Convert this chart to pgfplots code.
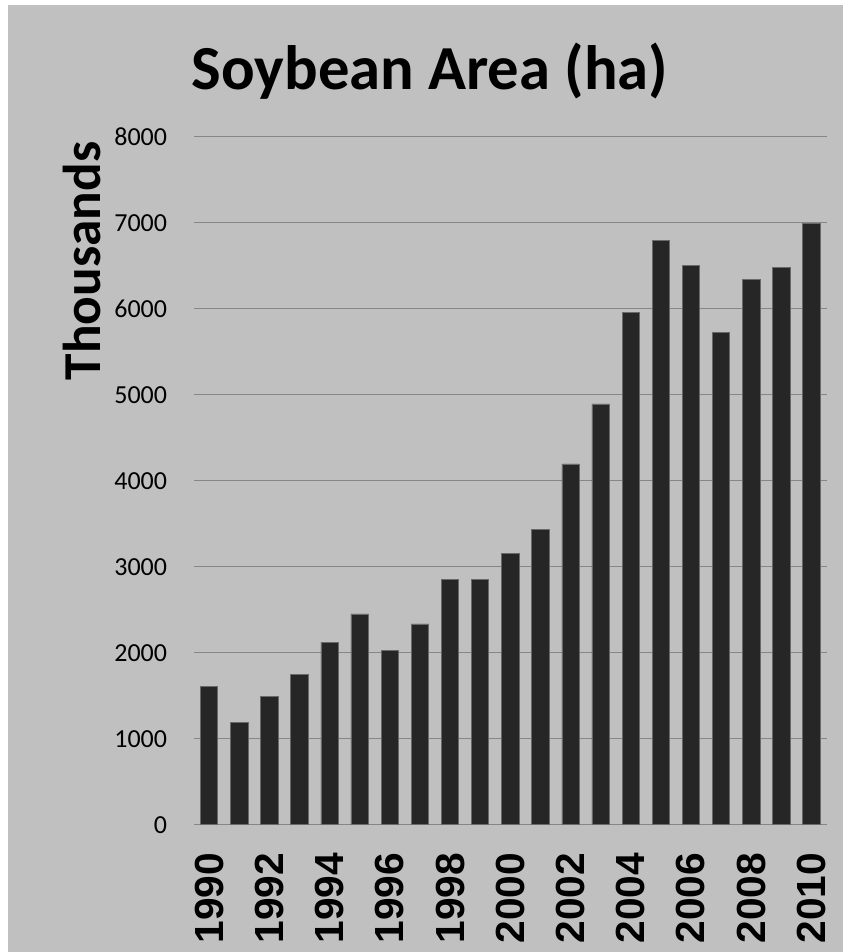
\documentclass[border=0pt]{standalone}
\usepackage{pgfplots}
\pgfplotsset{compat=1.18}
\usepackage{fontspec}
\setmainfont{Carlito}
\newfontfamily\xfont{Liberation Sans}
\definecolor{bg}{RGB}{192,192,192}
\definecolor{barfill}{RGB}{38,38,38}
\definecolor{gridc}{RGB}{134,134,134}
\begin{document}
\begin{tikzpicture}
% page: 843x952 px at 0.75pt/px
\fill[white] (0pt,0pt) rectangle (632.25pt,714pt);
\fill[bg] (6pt,0pt) rectangle (632.25pt,710.25pt);
\begin{axis}[
  at={(145.5pt,95.5pt)}, anchor=south west,
  scale only axis, width=474.4pt, height=516pt,
  xmin=-0.5, xmax=20.5, ymin=0, ymax=8000,
  ytick={0,1000,...,8000},
  xtick={0,2,...,20},
  xticklabels={1990,1992,1994,1996,1998,2000,2002,2004,2006,2008,2010},
  axis lines*=left,
  y axis line style={draw=none},
  x axis line style={gridc, line width=1pt, -},
  ymajorgrids, grid style={gridc, line width=1pt},
  major tick length=0pt,
  /pgf/number format/assume math mode=true,
  /pgf/number format/1000 sep={},
  yticklabel style={font=\fontsize{19.5}{20}\selectfont, anchor=east, inner sep=0pt},
  yticklabel shift=20pt,
  xticklabel style={font=\xfont\bfseries\fontsize{30.5}{31}\selectfont, rotate=90, anchor=east, inner sep=0pt},
  xticklabel shift=21pt,
  ybar, bar width=13pt, bar shift=0pt,
  clip=false,
]
\addplot[fill=barfill, draw=gridc!70!barfill, line width=0.5pt] coordinates {
  (0,1605) (1,1186) (2,1493) (3,1749) (4,2121) (5,2450) (6,2028)
  (7,2334) (8,2853) (9,2856) (10,3156) (11,3435) (12,4195) (13,4892)
  (14,5955) (15,6795) (16,6505) (17,5721) (18,6342) (19,6477) (20,6995)
};
\end{axis}
\node[anchor=base, inner sep=0pt, font=\bfseries\fontsize{47}{48}\selectfont] at (322.5pt,646.5pt) {Soybean Area (ha)};
\node[anchor=base, rotate=90, inner sep=0pt, font=\bfseries\fontsize{40}{41}\selectfont] at (75pt,518.25pt) {Thousands};
\end{tikzpicture}
\end{document}
